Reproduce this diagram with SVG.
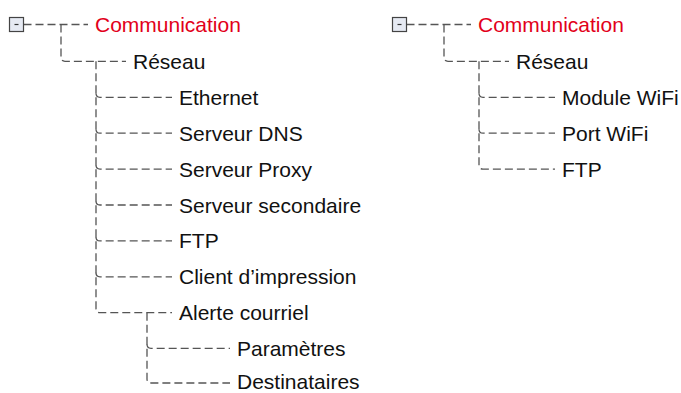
<svg xmlns="http://www.w3.org/2000/svg" width="681" height="393" viewBox="0 0 681 393">
<style>
  .bg { fill: #ffffff; }
  .conn { fill: none; stroke: #555555; stroke-width: 1.3; stroke-dasharray: 8 4; }
  .box { fill: #e6eaf3; stroke: #444444; stroke-width: 1.2; }
  .minus { stroke: #333333; stroke-width: 1.2; }
  .t { font-family: "Liberation Sans", Arial, sans-serif; font-size: 21px; fill: #111111; }
  .root { fill: #e2001a; }
</style>
<rect class="bg" x="0" y="0" width="681" height="393"/>
<g id="connectors">
  <!-- left tree -->
  <path class="conn" d="M23.5 24.5 H88"/>
  <path class="conn" d="M61 24.5 V57.3 Q61 61.3 65 61.3 H126"/>
  <path class="conn" d="M96 61.3 V308.7 Q96 312.7 100 312.7 H172"/>
  <path class="conn" d="M96 93.3 Q96 97.3 100 97.3 H172"/>
  <path class="conn" d="M96 129.2 Q96 133.2 100 133.2 H172"/>
  <path class="conn" d="M96 165.1 Q96 169.1 100 169.1 H172"/>
  <path class="conn" d="M96 201 Q96 205 100 205 H172"/>
  <path class="conn" d="M96 236.9 Q96 240.9 100 240.9 H172"/>
  <path class="conn" d="M96 272.8 Q96 276.8 100 276.8 H172"/>
  <path class="conn" d="M147 312.7 V379 Q147 383 151 383 H230"/>
  <path class="conn" d="M147 344.3 Q147 348.3 151 348.3 H230"/>
  <!-- right tree -->
  <path class="conn" d="M406.5 24.5 H471"/>
  <path class="conn" d="M444 24.5 V57.3 Q444 61.3 448 61.3 H509"/>
  <path class="conn" d="M479 61.3 V165.1 Q479 169.1 483 169.1 H555"/>
  <path class="conn" d="M479 93.3 Q479 97.3 483 97.3 H555"/>
  <path class="conn" d="M479 129.2 Q479 133.2 483 133.2 H555"/>
</g>
<g id="left-communication">
  <rect class="box" x="9.5" y="17.5" width="14" height="14"/>
  <line class="minus" x1="14.5" y1="24.5" x2="18.5" y2="24.5"/>
  <text class="t root" x="95" y="32">Communication</text>
</g>
<g id="left-reseau"><text class="t" x="133" y="68.8">Réseau</text></g>
<g id="left-ethernet"><text class="t" x="179" y="104.8">Ethernet</text></g>
<g id="left-serveur-dns"><text class="t" x="179" y="140.7">Serveur DNS</text></g>
<g id="left-serveur-proxy"><text class="t" x="179" y="176.6">Serveur Proxy</text></g>
<g id="left-serveur-secondaire"><text class="t" x="179" y="212.5">Serveur secondaire</text></g>
<g id="left-ftp"><text class="t" x="179" y="248.4">FTP</text></g>
<g id="left-client-impression"><text class="t" x="179" y="284.3">Client d’impression</text></g>
<g id="left-alerte-courriel"><text class="t" x="179" y="320.2">Alerte courriel</text></g>
<g id="left-parametres"><text class="t" x="237" y="355.8">Paramètres</text></g>
<g id="left-destinataires"><text class="t" x="237" y="388.5">Destinataires</text></g>
<g id="right-communication">
  <rect class="box" x="392.5" y="17.5" width="14" height="14"/>
  <line class="minus" x1="397.5" y1="24.5" x2="401.5" y2="24.5"/>
  <text class="t root" x="478" y="32">Communication</text>
</g>
<g id="right-reseau"><text class="t" x="516" y="68.8">Réseau</text></g>
<g id="right-module-wifi"><text class="t" x="562" y="104.8">Module WiFi</text></g>
<g id="right-port-wifi"><text class="t" x="562" y="140.7">Port WiFi</text></g>
<g id="right-ftp"><text class="t" x="562" y="176.6">FTP</text></g>
</svg>
